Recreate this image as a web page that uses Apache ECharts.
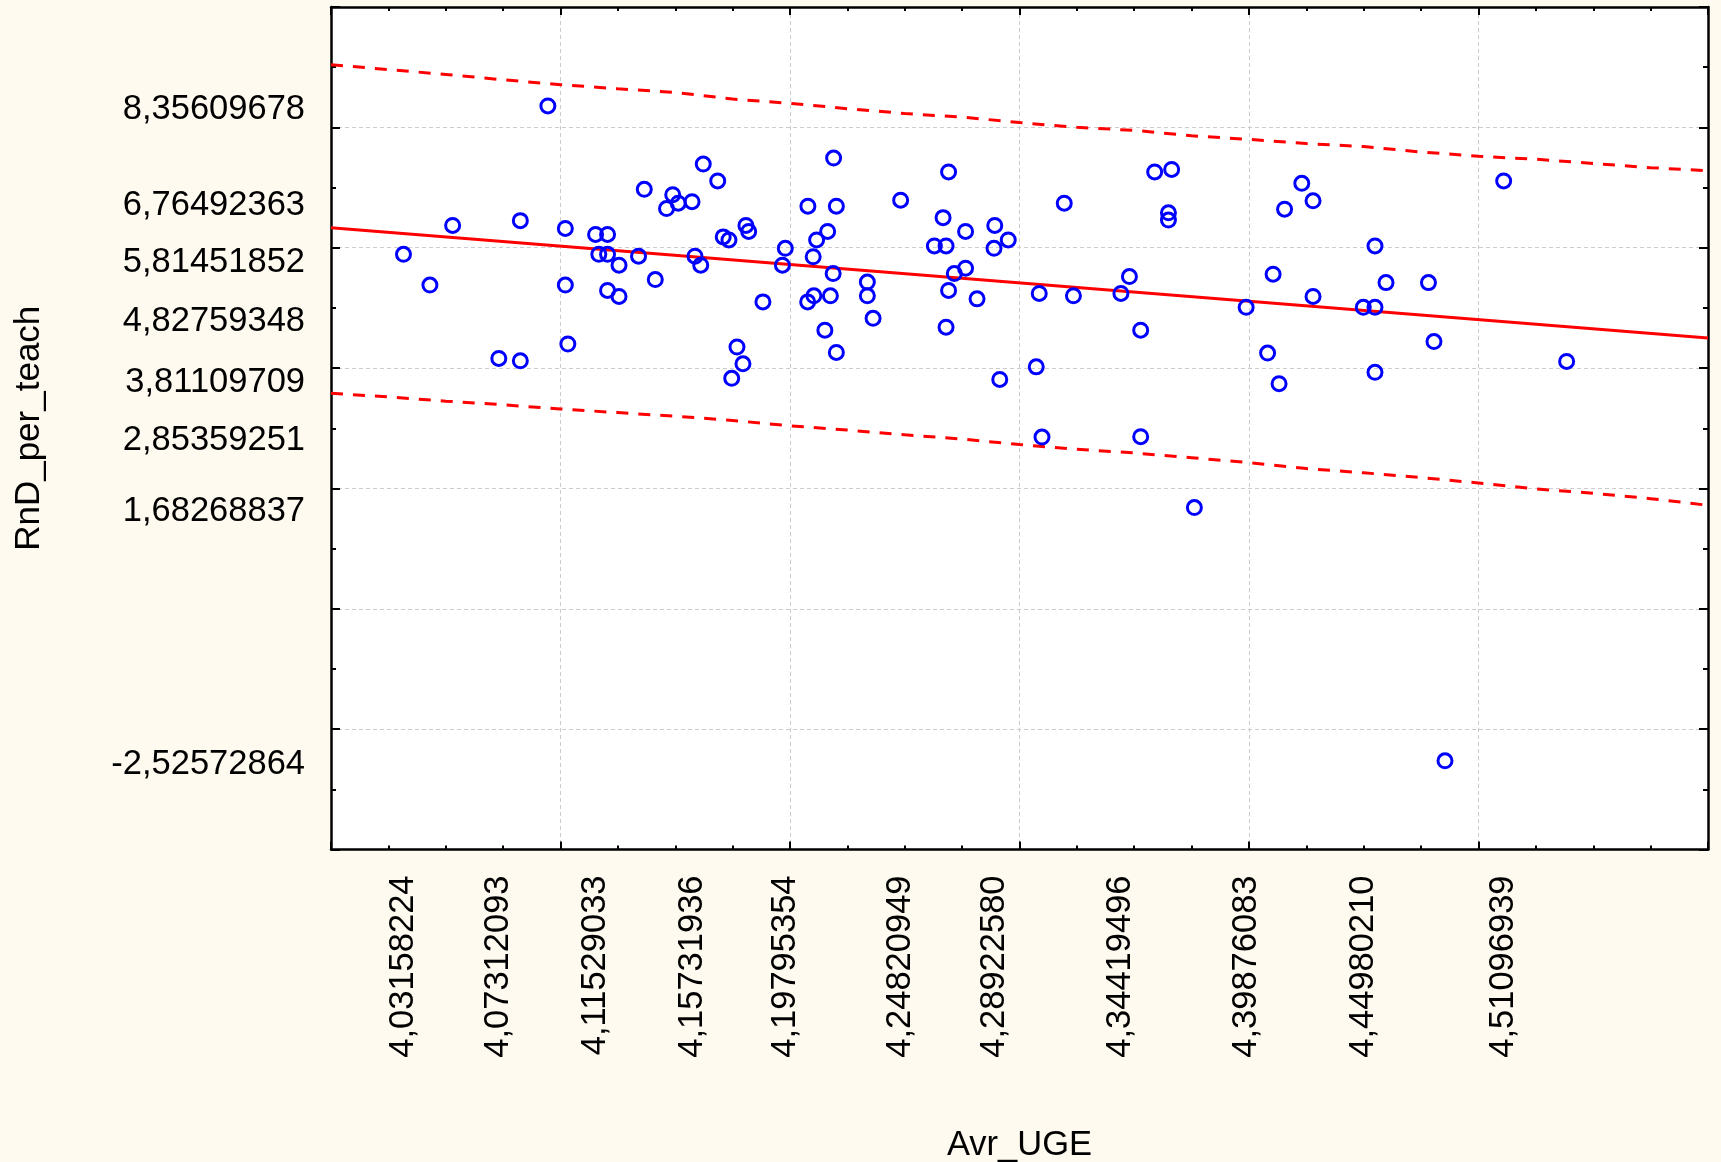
<!DOCTYPE html>
<html>
<head>
<meta charset="utf-8">
<script src="https://cdn.jsdelivr.net/npm/echarts@6/dist/echarts.min.js"></script>
<style>
  html, body { margin: 0; padding: 0; background: #FFFAF0; }
  #chart { width: 1721px; height: 1162px; }
</style>
</head>
<body>
<div id="chart"></div>
<script>
// ---- data ----
const xValues = [
  4.03158224, 4.0431, 4.0530, 4.07312093, 4.0825, 4.0825, 4.0945, 4.1021, 4.1021, 4.1032,
  4.11529033, 4.1167, 4.1205, 4.1205, 4.1205, 4.1255, 4.1255, 4.1340, 4.1365, 4.1413,
  4.1462, 4.1489, 4.1513, 4.15731936, 4.1586, 4.1611, 4.1622, 4.1685, 4.1709, 4.1734,
  4.1746, 4.1769, 4.1795, 4.1808, 4.1820, 4.1882, 4.1967, 4.19795354, 4.2078, 4.2077,
  4.2101, 4.2104, 4.2116, 4.2152, 4.2164, 4.2176, 4.2190, 4.2188, 4.2202, 4.2202,
  4.2337, 4.2337, 4.2362, 4.24820949, 4.2629, 4.2667, 4.2680, 4.2691, 4.2680, 4.2691,
  4.2716, 4.2765, 4.2765, 4.2815, 4.2892258, 4.2889, 4.2914, 4.2951, 4.3073, 4.3086,
  4.3098, 4.3195, 4.3235, 4.34419496, 4.3479, 4.3528, 4.3528, 4.3589, 4.3663, 4.3649,
  4.3649, 4.3762, 4.39876083, 4.4081, 4.4105, 4.4131, 4.4155, 4.4230, 4.4279, 4.4279,
  4.44980210, 4.4549, 4.4549, 4.4549, 4.4597, 4.4782, 4.4806, 4.4854, 4.51096939, 4.5384
];
const yValues = [
  5.89, 5.38, 6.37, 4.16, 6.45, 4.12, 8.35609678, 6.32, 5.38, 4.40,
  6.22, 5.89, 6.22, 5.89, 5.29, 5.71, 5.19, 5.86, 6.97, 5.47,
  6.65, 6.88, 6.74, 6.76492363, 5.86, 5.71, 7.39, 7.11, 6.18, 6.13,
  3.83, 4.35, 4.07, 6.37, 6.27, 5.10, 5.71, 5.99, 6.69, 5.10,
  5.85, 5.20, 6.13, 4.63, 6.27, 5.20, 7.49, 5.57, 6.69, 4.26,
  5.43, 5.20, 4.82759348, 6.79, 6.03, 6.50, 6.03, 7.26, 4.68, 5.29,
  5.57, 6.27, 5.66, 5.15, 6.37, 5.99, 3.81109709, 6.13, 4.02, 5.24,
  2.85359251, 6.74, 5.20, 5.24, 5.52, 4.63, 2.86, 7.26, 7.30, 6.58,
  6.46, 1.68268837, 5.01, 4.25, 5.56, 3.74, 6.64, 7.07, 6.78, 5.19,
  5.01, 6.03, 5.01, 3.93, 5.42, 5.42, 4.44, -2.52572864, 7.11, 4.11
];
const xTickLabels = [4.03158224, 4.07312093, 4.11529033, 4.15731936, 4.19795354,
  4.24820949, 4.28922580, 4.34419496, 4.39876083, 4.44980210, 4.51096939];
const yTickLabels = [8.35609678, 6.76492363, 5.81451852, 4.82759348, 3.81109709,
  2.85359251, 1.68268837, -2.52572864];
const fitX = [4.0, 4.6];
const fitY = [6.33, 4.50];
const bandX = [4.0, 4.025, 4.05, 4.075, 4.1, 4.125, 4.15, 4.175, 4.2, 4.225, 4.25, 4.275, 4.3,
  4.325, 4.35, 4.375, 4.4, 4.425, 4.45, 4.475, 4.5, 4.525, 4.55, 4.575, 4.6];
const bandUpper = [9.04, 8.96, 8.88, 8.79, 8.71, 8.64, 8.58, 8.47, 8.40, 8.31, 8.23, 8.17, 8.08,
  8.00, 7.95, 7.86, 7.80, 7.73, 7.68, 7.59, 7.52, 7.47, 7.40, 7.33, 7.28];
const bandLower = [3.58, 3.52, 3.45, 3.39, 3.32, 3.26, 3.20, 3.13, 3.04, 2.97, 2.89, 2.82, 2.73,
  2.65, 2.59, 2.51, 2.43, 2.33, 2.26, 2.18, 2.09, 1.99, 1.92, 1.83, 1.72];

// ---- chart ----
const FONT = "'Liberation Sans', Arial, sans-serif";
const fmt = v => Number(v).toFixed(8).replace('.', ',');
const zip = (a, b) => a.map((v, i) => [v, b[i]]);

const axisLineStyle = { color: '#000', width: 2.5 };
const tickStyle = { color: '#000', width: 2 };
const gridLineStyle = { color: '#cccccc', width: 1, type: [4, 3] };

const chart = echarts.init(document.getElementById('chart'), null, { renderer: 'canvas' });
chart.setOption({
  backgroundColor: '#FFFAF0',
  animation: false,
  grid: {
    left: 331, right: 13, top: 7, bottom: 312.5,
    show: true, backgroundColor: '#ffffff', borderWidth: 0,
    outerBoundsMode: 'none', containLabel: false
  },
  xAxis: [
    {
      type: 'value', min: 4.0, max: 4.6, interval: 0.1, position: 'bottom',
      axisLine: { show: true, onZero: false, lineStyle: axisLineStyle },
      axisTick: { show: true, inside: true, length: 8, lineStyle: tickStyle },
      minorTick: { show: true, splitNumber: 4, length: 4, lineStyle: tickStyle },
      splitLine: { show: true, lineStyle: gridLineStyle },
      axisLabel: {
        customValues: xTickLabels, formatter: fmt, rotate: 90, margin: 26,
        fontSize: 34.5, color: '#000', fontFamily: FONT
      },
      name: 'Avr_UGE', nameLocation: 'middle', nameGap: 278,
      nameTextStyle: { fontSize: 34.5, color: '#000', fontFamily: FONT }
    },
    {
      type: 'value', min: 4.0, max: 4.6, interval: 0.1, position: 'top',
      axisLine: { show: true, onZero: false, lineStyle: axisLineStyle },
      axisTick: { show: true, inside: true, length: 8, lineStyle: tickStyle },
      minorTick: { show: true, splitNumber: 4, length: 4, lineStyle: tickStyle },
      splitLine: { show: false },
      axisLabel: { show: false }
    }
  ],
  yAxis: [
    {
      type: 'value', min: -4, max: 10, interval: 2, position: 'left',
      axisLine: { show: true, onZero: false, lineStyle: axisLineStyle },
      axisTick: { show: true, inside: true, length: 9, lineStyle: tickStyle },
      minorTick: { show: true, splitNumber: 2, length: 5, lineStyle: tickStyle },
      splitLine: { show: true, lineStyle: gridLineStyle },
      axisLabel: {
        customValues: yTickLabels, formatter: fmt, margin: 26,
        fontSize: 34.5, color: '#000', fontFamily: FONT,
        verticalAlign: 'top', padding: [-14, 0, 0, 0]
      },
      name: 'RnD_per_teach', nameLocation: 'middle', nameGap: 284, nameRotate: 90,
      nameTextStyle: { fontSize: 35, color: '#000', fontFamily: FONT }
    },
    {
      type: 'value', min: -4, max: 10, interval: 2, position: 'right',
      axisLine: { show: true, onZero: false, lineStyle: axisLineStyle },
      axisTick: { show: true, inside: true, length: 9, lineStyle: tickStyle },
      minorTick: { show: true, splitNumber: 2, length: 5, lineStyle: tickStyle },
      splitLine: { show: false },
      axisLabel: { show: false }
    }
  ],
  series: [
    {
      type: 'line', xAxisIndex: 0, yAxisIndex: 0,
      data: zip(bandX, bandUpper), showSymbol: false, silent: true, z: 3,
      lineStyle: { color: '#ff0000', width: 3, type: [12, 10] }
    },
    {
      type: 'line', xAxisIndex: 0, yAxisIndex: 0,
      data: zip(bandX, bandLower), showSymbol: false, silent: true, z: 3,
      lineStyle: { color: '#ff0000', width: 3, type: [12, 10] }
    },
    {
      type: 'line', xAxisIndex: 0, yAxisIndex: 0,
      data: zip(fitX, fitY), showSymbol: false, silent: true, z: 3,
      lineStyle: { color: '#ff0000', width: 3 }
    },
    {
      type: 'scatter', xAxisIndex: 0, yAxisIndex: 0,
      data: zip(xValues, yValues), symbol: 'circle', symbolSize: 14, z: 4,
      itemStyle: { color: 'rgba(0,0,0,0)', borderColor: '#0000ff', borderWidth: 3, opacity: 1 },
      emphasis: { disabled: true }
    }
  ]
});
</script>
</body>
</html>
